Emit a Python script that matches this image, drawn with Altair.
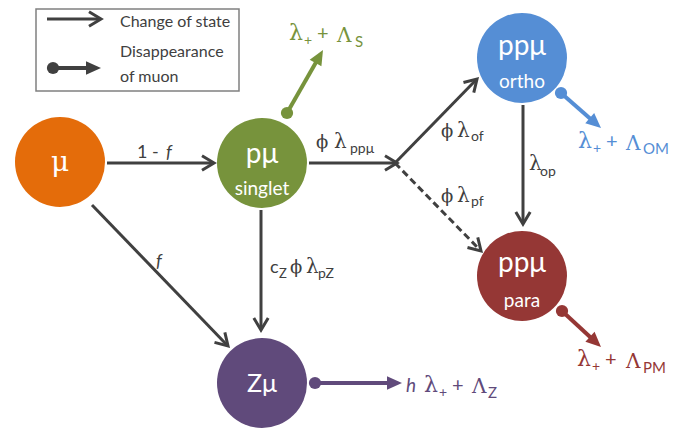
import math
import altair as alt
import pandas as pd

# ---------------- diagram data (image pixel coordinates) ----------------
# states (circles)
node_x = [60, 262, 522, 522, 262]
node_y = [162, 163, 58, 276, 383]
node_color = ["#E46C0A", "#77933C", "#558ED5", "#953735", "#604A7B"]

# change-of-state arrows (dark), last one is the legend sample
flow_x1 = [107, 309, 395, 395, 523, 261, 92, 47]
flow_y1 = [163, 163, 163, 163, 105, 210, 205, 19]
flow_x2 = [214, 397, 477, 481, 523, 261, 228, 101]
flow_y2 = [163, 163, 79, 251, 224, 330, 346, 19]
flow_dashed = [False, False, False, True, False, False, False, False]

# disappearance-of-muon arrows (dot + filled head), last one is the legend sample
decay_x1 = [287, 561, 562, 315, 53]
decay_y1 = [113, 93, 311, 383, 68]
decay_x2 = [323, 601, 601, 402, 101]
decay_y2 = [50, 128, 347, 383, 68]
decay_color = ["#77933C", "#558ED5", "#953735", "#604A7B", "#404040"]

# legend frame
legend_box = {"x": [36], "x2": [239], "y": [9], "y2": [91]}

DK, WH = "#404040", "#FFFFFF"
GR, BL, RD, PU = "#77933C", "#558ED5", "#953735", "#604A7B"

# text fragments: text, x, baseline y, size, colour, font, align
label_text = [
    "Change of state", "Disappearance", "of muon",
    "1 -", "f",
    "ϕ", "λ", "ppμ",
    "ϕ", "λ", "of",
    "ϕ", "λ", "pf",
    "λ", "op",
    "c", "Z", "ϕ", "λ", "pZ",
    "f",
    "λ", "+", "+", "Λ", "S",
    "λ", "+", "+", "Λ", "OM",
    "λ", "+", "+", "Λ", "PM",
    "h", "λ", "+", "+", "Λ", "Z",
    "μ", "pμ", "singlet", "ppμ", "ortho", "ppμ", "para", "Zμ",
]
label_x = [
    120, 120, 120,
    137, 166,
    316, 334, 350,
    441, 457, 471,
    441, 457, 471,
    529, 540,
    270, 279, 290, 306, 318,
    156,
    289, 304, 317, 337, 355,
    578, 593, 606, 626, 643,
    577, 592, 605, 626, 643,
    406, 424, 439, 452, 472, 488,
    60, 262, 262, 522, 522, 522, 522, 262,
]
label_y = [
    27, 57, 82,
    158, 158,
    148, 148, 153,
    137, 137, 141,
    202, 202, 206,
    170, 176,
    273, 278, 273, 273, 278,
    267,
    40, 45, 40, 42, 47,
    148, 153, 148, 150, 154,
    366, 371, 366, 368, 373,
    392, 392, 397, 392, 393, 398,
    171, 163, 195, 55, 88, 272, 307, 392,
]
label_size = [
    16, 16, 16,
    18, 18,
    18, 20, 14,
    18, 20, 14,
    18, 20, 14,
    20, 14,
    18, 13, 18, 20, 14,
    18,
    22, 14, 20, 20, 15,
    22, 14, 20, 20, 15,
    22, 14, 20, 20, 15,
    19, 22, 14, 20, 20, 15,
    28, 28, 19, 28, 19, 28, 19, 25,
]
label_color = (
    [DK] * 22
    + [GR] * 5 + [BL] * 5 + [RD] * 5 + [PU] * 6
    + [WH] * 8
)
label_font = [
    "sans", "sans", "sans",
    "sans", "ital",
    "serif", "serif", "sans",
    "serif", "serif", "sans",
    "serif", "serif", "sans",
    "serif", "sans",
    "sans", "sans", "serif", "serif", "sans",
    "ital",
    "serif", "sans", "sans", "serif", "sans",
    "serif", "sans", "sans", "serif", "sans",
    "serif", "sans", "sans", "serif", "sans",
    "ital", "serif", "sans", "sans", "serif", "sans",
    "serif", "sans", "sans", "sans", "sans", "sans", "sans", "sans",
]
label_align = ["left"] * 43 + ["center"] * 8

FONTS = {"sans": ("Lato", "normal"), "serif": ("DejaVu Serif", "normal"),
         "ital": ("Lato", "italic")}

# ---------------- scales ----------------
W, H = 675, 420
xs = alt.Scale(domain=[8, 8 + W], nice=False, zero=False)
ys = alt.Scale(domain=[8, 8 + H], nice=False, zero=False, reverse=True)


def X(f):
    return alt.X(f, type="quantitative", scale=xs, axis=None)


def Y(f):
    return alt.Y(f, type="quantitative", scale=ys, axis=None)


def unit(x1, y1, x2, y2):
    d = math.hypot(x2 - x1, y2 - y1)
    return (x2 - x1) / d, (y2 - y1) / d


# ---------------- tables ----------------
rows = []
for x1, y1, x2, y2, dsh in zip(flow_x1, flow_y1, flow_x2, flow_y2, flow_dashed):
    ux, uy = unit(x1, y1, x2, y2)
    rows.append({"x1": x1, "y1": y1, "xe": x2 - ux * 1.5, "ye": y2 - uy * 1.5,
                 "x2": x2, "y2": y2, "dashed": dsh,
                 "ang": math.degrees(math.atan2(uy, ux)) % 360})
flows = pd.DataFrame(rows)

rows = []
for x1, y1, x2, y2, c in zip(decay_x1, decay_y1, decay_x2, decay_y2, decay_color):
    ux, uy = unit(x1, y1, x2, y2)
    rows.append({"x1": x1, "y1": y1, "xe": x2 - ux * 10, "ye": y2 - uy * 10,
                 "x2": x2, "y2": y2, "c": c,
                 "ang": math.degrees(math.atan2(uy, ux)) % 360})
decays = pd.DataFrame(rows)

nodes = pd.DataFrame({"x": node_x, "y": node_y, "c": node_color})
labels = pd.DataFrame({"t": label_text, "x": label_x, "y": label_y, "s": label_size,
                       "c": label_color, "f": label_font, "a": label_align})

CHEVRON = "M -1 -0.6 L 0 0 L -1 0.6"
TRIANGLE = "M -1 -0.45 L 0 0 L -1 0.45 Z"

layers = []

# legend frame
layers.append(
    alt.Chart(pd.DataFrame(legend_box)).mark_rect(
        fill="#FFFFFF", stroke="#808080", strokeWidth=1.5
    ).encode(x=X("x"), x2="x2", y=Y("y"), y2="y2")
)

# circles
layers.append(
    alt.Chart(nodes).mark_point(shape="circle", filled=True, opacity=1, size=8100,
                                strokeWidth=0)
    .encode(x=X("x"), y=Y("y"), color=alt.Color("c:N", scale=None))
)

# dark flow lines
solid = flows[~flows["dashed"]]
dashed = flows[flows["dashed"]]
layers.append(
    alt.Chart(solid).mark_rule(color=DK, strokeWidth=3)
    .encode(x=X("x1"), y=Y("y1"), x2="xe", y2="ye")
)
layers.append(
    alt.Chart(dashed).mark_rule(color=DK, strokeWidth=3, strokeDash=[7, 4])
    .encode(x=X("x1"), y=Y("y1"), x2="xe", y2="ye")
)
layers.append(
    alt.Chart(flows).mark_point(shape=CHEVRON, filled=False, color=DK, opacity=1,
                                strokeWidth=3, size=576, strokeJoin="miter")
    .encode(x=X("x2"), y=Y("y2"), angle=alt.Angle("ang:Q", scale=None))
)

# decay arrows
layers.append(
    alt.Chart(decays).mark_rule(strokeWidth=4)
    .encode(x=X("x1"), y=Y("y1"), x2="xe", y2="ye", color=alt.Color("c:N", scale=None))
)
layers.append(
    alt.Chart(decays).mark_point(shape="circle", filled=True, opacity=1, size=150,
                                 strokeWidth=0)
    .encode(x=X("x1"), y=Y("y1"), color=alt.Color("c:N", scale=None))
)
layers.append(
    alt.Chart(decays).mark_point(shape=TRIANGLE, filled=True, opacity=1, size=900,
                                 strokeWidth=0)
    .encode(x=X("x2"), y=Y("y2"), angle=alt.Angle("ang:Q", scale=None),
            color=alt.Color("c:N", scale=None))
)

# text
for (fkey, align), sub in labels.groupby(["f", "a"]):
    fam, style = FONTS[fkey]
    layers.append(
        alt.Chart(sub).mark_text(align=align, baseline="alphabetic", font=fam,
                                 fontStyle=style)
        .encode(x=X("x"), y=Y("y"), text="t:N",
                size=alt.Size("s:Q", scale=None),
                color=alt.Color("c:N", scale=None))
    )

chart = alt.layer(*layers).properties(
    width=W, height=H, padding=0, autosize=alt.AutoSizeParams(type="none")
).configure_view(stroke=None)

chart.save("out.html", embed_options={"renderer": "svg", "actions": False})
